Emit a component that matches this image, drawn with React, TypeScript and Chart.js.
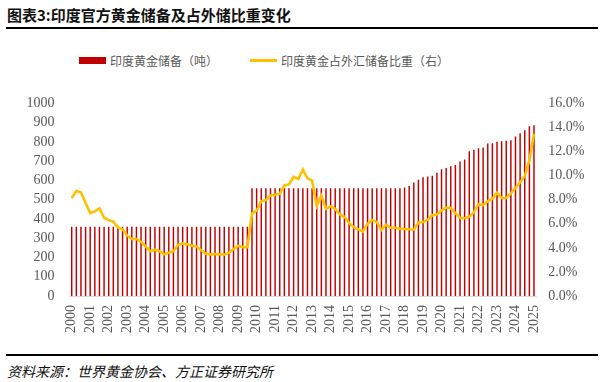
import React, { useEffect, useRef } from "react";
import { Chart, registerables } from "chart.js";

Chart.register(...registerables);

const years = [
  "2000", "2001", "2002", "2003", "2004", "2005", "2006", "2007", "2008", "2009",
  "2010", "2011", "2012", "2013", "2014", "2015", "2016", "2017", "2018", "2019",
  "2020", "2021", "2022", "2023", "2024", "2025",
];
const quarters = ["Q1", "Q2", "Q3", "Q4"];
const categories = years.flatMap((y) => quarters.map((q) => y + q)).slice(0, 101);

// 印度黄金储备（吨）, quarterly
const goldTonnes = [
  357.8, 357.8, 357.8, 357.8, 357.8, 357.8, 357.8, 357.8, 357.8, 357.8,
  357.8, 357.8, 357.8, 357.8, 357.8, 357.8, 357.8, 357.8, 357.8, 357.8,
  357.8, 357.8, 357.8, 357.8, 357.8, 357.8, 357.8, 357.8, 357.8, 357.8,
  357.8, 357.8, 357.8, 357.8, 357.8, 357.8, 357.8, 357.8, 357.8, 557.7,
  557.7, 557.7, 557.7, 557.7, 557.7, 557.7, 557.7, 557.7, 557.7, 557.7,
  557.7, 557.7, 557.7, 557.7, 557.7, 557.7, 557.7, 557.7, 557.7, 557.7,
  557.7, 557.7, 557.7, 557.7, 557.7, 557.7, 557.7, 557.7, 557.7, 557.7,
  557.7, 557.7, 562, 569, 588, 602, 615, 619, 622, 638,
  656, 663, 672, 679, 697, 707, 750, 757, 766, 769,
  790, 792, 799, 802, 804, 807, 826, 843, 859, 880,
  885,
];

// 印度黄金占外汇储备比重（%），quarterly
const goldShare = [
  8.14, 8.72, 8.61, 7.75, 6.89, 7.03, 7.28, 6.5, 6.3, 6.17,
  5.7, 5.54, 5.02, 4.74, 4.74, 4.5, 4.11, 3.72, 3.85, 3.72,
  3.46, 3.59, 3.72, 4.24, 4.37, 4.29, 4.18, 4.11, 3.8, 3.51,
  3.46, 3.49, 3.46, 3.43, 3.59, 3.9, 4.16, 4.06, 4.06, 6.85,
  7.1, 7.88, 7.96, 8.35, 8.4, 8.48, 9.19, 9.27, 9.9, 9.72,
  10.5, 9.78, 9.58, 7.49, 8.33, 7.24, 7.44, 7.24, 6.77, 6.58,
  6.07, 5.72, 5.54, 5.36, 5.99, 6.32, 6.14, 5.49, 5.93, 5.67,
  5.67, 5.6, 5.57, 5.54, 5.51, 6.11, 6.14, 6.32, 6.71, 6.77,
  7.1, 7.36, 7.31, 6.89, 6.5, 6.46, 6.58, 6.97, 7.63, 7.55,
  7.88, 8.07, 8.59, 8.14, 8.14, 8.53, 8.98, 9.45, 9.97, 11.26,
  13.48,
];

const title = "图表3:印度官方黄金储备及占外储比重变化";
const legendBar = "印度黄金储备（吨）";
const legendLine = "印度黄金占外汇储备比重（右）";
const source = "资料来源：世界黄金协会、方正证券研究所";

const RED = "#C00000";
const GOLD = "#FFC000";
const GREY = "#595959";
const tickFont = { family: "'Liberation Serif', 'Times New Roman', serif", size: 14 };

export default function App() {
  const ref = useRef<HTMLCanvasElement | null>(null);

  useEffect(() => {
    if (!ref.current) return;
    const chart = new Chart(ref.current, {
      type: "bar",
      data: {
        labels: categories,
        datasets: [
          {
            type: "line",
            label: legendLine,
            data: goldShare,
            yAxisID: "y1",
            borderColor: GOLD,
            backgroundColor: GOLD,
            borderWidth: 2.6,
            pointRadius: 0,
            tension: 0,
            order: 0,
          },
          {
            type: "bar",
            label: legendBar,
            data: goldTonnes,
            yAxisID: "y",
            backgroundColor: RED,
            barThickness: 0.8,
            order: 1,
          },
        ],
      },
      options: {
        responsive: false,
        animation: false,
        layout: { padding: { top: 12.3, left: 0, right: 0, bottom: 0 } },
        plugins: { legend: { display: false }, tooltip: { enabled: false } },
        scales: {
          x: {
            offset: true,
            grid: { display: false, drawTicks: false },
            border: { display: true, color: "#D9D9D9", width: 1 },
            ticks: {
              autoSkip: false,
              minRotation: 90,
              maxRotation: 90,
              padding: 9,
              color: GREY,
              font: tickFont,
              callback: (_v: any, i: number) =>
                categories[i].endsWith("Q1") ? categories[i].slice(0, 4) : "",
            },
            afterFit: (s: any) => {
              s.height = 40;
            },
          },
          y: {
            position: "left",
            min: 0,
            max: 1000,
            grid: { display: false, drawTicks: false },
            border: { display: false },
            ticks: {
              stepSize: 100,
              autoSkip: false,
              padding: 15,
              color: GREY,
              font: tickFont,
              callback: (v: any) => String(Math.round(Number(v))),
            },
            afterFit: (s: any) => {
              s.width = 69.4;
            },
          },
          y1: {
            position: "right",
            min: 0,
            max: 16,
            grid: { display: false, drawTicks: false },
            border: { display: false },
            ticks: {
              stepSize: 2,
              autoSkip: false,
              padding: 12,
              color: GREY,
              font: tickFont,
              callback: (v: any) => Number(v).toFixed(1) + "%",
            },
            afterFit: (s: any) => {
              s.width = 65.7;
            },
          },
        },
      },
    });
    return () => chart.destroy();
  }, []);

  const cjk = "'Noto Sans CJK SC', 'Noto Sans', sans-serif";

  return (
    <div
      style={{
        position: "fixed",
        left: 0,
        top: 0,
        width: 602,
        height: 382,
        background: "#fff",
        overflow: "hidden",
      }}
    >
      <div
        style={{
          position: "absolute",
          left: 7,
          top: 4,
          height: 22,
          lineHeight: "22px",
          fontFamily: cjk,
          fontSize: 15,
          fontWeight: 700,
          color: "#111",
          whiteSpace: "nowrap",
        }}
      >
        {title}
      </div>
      <div style={{ position: "absolute", left: 6, top: 27, width: 592, height: 2, background: "#000" }} />

      <div style={{ position: "absolute", left: 79, top: 57, width: 27, height: 7, background: RED }} />
      <div
        style={{
          position: "absolute",
          left: 110,
          top: 52,
          height: 17,
          lineHeight: "17px",
          fontFamily: cjk,
          fontSize: 12,
          color: GREY,
          whiteSpace: "nowrap",
        }}
      >
        {legendBar}
      </div>
      <div style={{ position: "absolute", left: 250, top: 59, width: 27, height: 3, background: GOLD }} />
      <div
        style={{
          position: "absolute",
          left: 281,
          top: 52,
          height: 17,
          lineHeight: "17px",
          fontFamily: cjk,
          fontSize: 12,
          color: GREY,
          whiteSpace: "nowrap",
        }}
      >
        {legendLine}
      </div>

      <canvas
        ref={ref}
        width={602}
        height={256}
        style={{ position: "absolute", left: 0, top: 80, width: 602, height: 256 }}
      />

      <div style={{ position: "absolute", left: 6, top: 354, width: 592, height: 2, background: "#000" }} />
      <div
        style={{
          position: "absolute",
          left: 7,
          top: 362,
          height: 19,
          lineHeight: "19px",
          fontFamily: cjk,
          fontSize: 14,
          fontStyle: "italic",
          color: "#111",
          whiteSpace: "nowrap",
        }}
      >
        {source}
      </div>
    </div>
  );
}
